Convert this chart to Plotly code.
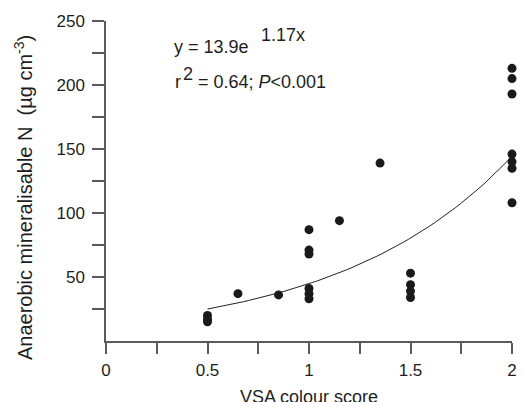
import numpy as np
import plotly.graph_objects as go

# Observed data (VSA colour score vs anaerobic mineralisable N)
vsa_score = [0.5, 0.5, 0.5, 0.65, 0.85,
             1.0, 1.0, 1.0, 1.0, 1.0, 1.0,
             1.15, 1.35,
             1.5, 1.5, 1.5, 1.5,
             2.0, 2.0, 2.0, 2.0, 2.0, 2.0, 2.0]
amn = [20, 17, 15, 37, 36,
       87, 71, 68, 41, 37, 33,
       94, 139,
       53, 44, 39, 34,
       213, 205, 193, 146, 140, 135, 108]

# Fitted exponential curve as printed on the chart: y = 13.9 e^(1.17x)
fit_a = 13.9
fit_b = 1.17
fit_x = np.linspace(0.5, 2.0, 60)
fit_y = fit_a * np.exp(fit_b * fit_x)

x_tickvals = [0, 0.25, 0.5, 0.75, 1.0, 1.25, 1.5, 1.75, 2.0]
x_ticktext = ["0", "", "0.5", "", "1", "", "1.5", "", "2"]
y_tickvals = [25, 50, 75, 100, 125, 150, 175, 200, 225, 250]
y_ticktext = ["", "50", "", "100", "", "150", "", "200", "", "250"]

FONT = "Liberation Sans, Arial, sans-serif"
AX = "#5a5a5a"
TXT = "#1e1e1e"

fig = go.Figure()
fig.add_trace(go.Scatter(x=fit_x, y=fit_y, mode="lines",
                         line=dict(color="#222222", width=1),
                         hoverinfo="skip", showlegend=False))
fig.add_trace(go.Scatter(x=vsa_score, y=amn, mode="markers",
                         marker=dict(color="#1a1a1a", size=9),
                         cliponaxis=False, showlegend=False))

fig.update_layout(
    width=525, height=402,
    margin=dict(l=106, r=8, t=21, b=61),
    paper_bgcolor="white", plot_bgcolor="white",
    font=dict(family=FONT, size=17, color=TXT),
    showlegend=False,
)
fig.update_xaxes(
    range=[0, 2], showgrid=False, zeroline=False,
    showline=True, linecolor=AX, linewidth=1.5,
    ticks="outside", ticklen=11, tickwidth=1.5, tickcolor=AX,
    tickvals=x_tickvals, ticktext=x_ticktext,
    tickfont=dict(size=17), ticklabelstandoff=2,
)
fig.update_yaxes(
    range=[0, 250], showgrid=False, zeroline=False,
    showline=True, linecolor=AX, linewidth=1.5,
    ticks="outside", ticklen=12, tickwidth=1.5, tickcolor=AX,
    tickvals=y_tickvals, ticktext=y_ticktext,
    tickfont=dict(size=17), ticklabelstandoff=4,
)

def px_to_x(px):
    return (px - 106) / 205.5

def px_to_y(py):
    return (341 - py) / 1.28

# axis titles
fig.add_annotation(x=0.5, y=0, xref="paper", yref="paper",
                   text="VSA colour score", showarrow=False,
                   xanchor="center", yanchor="top", yshift=-44,
                   font=dict(size=18))
fig.add_annotation(x=0, y=px_to_y(198), xref="paper", yref="y",
                   text="Anaerobic mineralisable N  (µg cm<sup>-3</sup>)",
                   textangle=-90, showarrow=False,
                   xanchor="center", yanchor="middle", xshift=-83,
                   font=dict(size=20))

# fit equation text
ann = [
    ("y = 13.9e", 173, 47),
    ("1.17x", 261, 35),
    ("r", 174, 82),
    ("2", 182, 74),
    ("= 0.64; <i>P</i><0.001", 197, 82),
]
for txt, lx, cy in ann:
    fig.add_annotation(x=px_to_x(lx), y=px_to_y(cy), xref="x", yref="y",
                       text=txt, showarrow=False,
                       xanchor="left", yanchor="middle",
                       font=dict(size=18))

fig.write_html("out.html", config={"displayModeBar": False},
               post_script="document.body.style.margin='0';")
